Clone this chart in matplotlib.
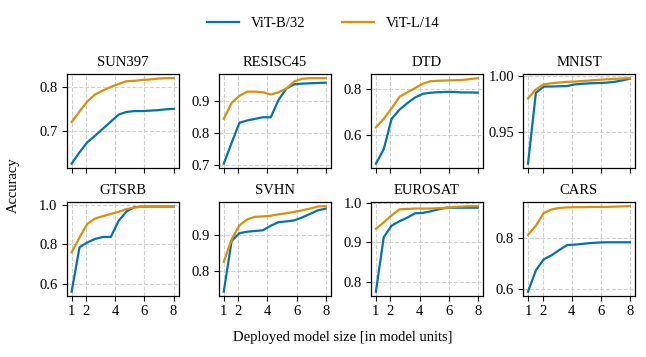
import numpy as np
import matplotlib
matplotlib.use('Agg')
import matplotlib.pyplot as plt

plt.rcParams['font.family'] = ['Liberation Serif', 'DejaVu Serif']
plt.rcParams['font.size'] = 10.5

# model sizes on the x axis (in model units)
sizes = [1, 1.54, 2.08, 2.62, 3.15, 3.69, 4.23, 4.77, 5.31, 5.85, 6.38, 6.92, 7.46, 8]

datasets = ['SUN397', 'RESISC45', 'DTD', 'MNIST', 'GTSRB', 'SVHN', 'EUROSAT', 'CARS']

# ViT-B/32 accuracy per dataset
vitb_sun397 = [0.626, 0.652, 0.675, 0.690, 0.706, 0.722, 0.738, 0.744, 0.746, 0.746, 0.747, 0.748, 0.750, 0.751]
vitb_resisc45 = [0.705, 0.770, 0.833, 0.840, 0.845, 0.850, 0.850, 0.905, 0.940, 0.953, 0.955, 0.956, 0.957, 0.958]
vitb_dtd = [0.477, 0.540, 0.672, 0.712, 0.740, 0.765, 0.781, 0.786, 0.788, 0.789, 0.789, 0.787, 0.787, 0.786]
vitb_mnist = [0.922, 0.985, 0.9905, 0.9906, 0.9908, 0.991, 0.9925, 0.9930, 0.9935, 0.9937, 0.9940, 0.9947, 0.9960, 0.9975]
vitb_gtsrb = [0.559, 0.785, 0.810, 0.828, 0.838, 0.838, 0.920, 0.968, 0.990, 0.992, 0.993, 0.993, 0.993, 0.993]
vitb_svhn = [0.741, 0.884, 0.906, 0.910, 0.912, 0.914, 0.927, 0.937, 0.939, 0.942, 0.950, 0.960, 0.970, 0.975]
vitb_eurosat = [0.776, 0.913, 0.942, 0.953, 0.962, 0.973, 0.974, 0.978, 0.983, 0.987, 0.987, 0.987, 0.987, 0.987]
vitb_cars = [0.591, 0.675, 0.718, 0.734, 0.755, 0.774, 0.776, 0.779, 0.782, 0.784, 0.785, 0.785, 0.785, 0.785]

# ViT-L/14 accuracy per dataset
vitl_sun397 = [0.721, 0.745, 0.768, 0.784, 0.793, 0.801, 0.808, 0.814, 0.815, 0.817, 0.818, 0.820, 0.821, 0.821]
vitl_resisc45 = [0.845, 0.895, 0.917, 0.930, 0.930, 0.928, 0.921, 0.928, 0.940, 0.962, 0.970, 0.972, 0.972, 0.972]
vitl_dtd = [0.635, 0.672, 0.718, 0.768, 0.787, 0.806, 0.825, 0.836, 0.838, 0.839, 0.840, 0.841, 0.845, 0.849]
vitl_mnist = [0.980, 0.988, 0.9925, 0.9935, 0.9942, 0.9948, 0.995, 0.9955, 0.996, 0.9965, 0.997, 0.9973, 0.9977, 0.998]
vitl_gtsrb = [0.760, 0.835, 0.905, 0.932, 0.944, 0.955, 0.966, 0.980, 0.988, 0.992, 0.993, 0.994, 0.995, 0.995]
vitl_svhn = [0.825, 0.888, 0.928, 0.945, 0.952, 0.953, 0.955, 0.959, 0.962, 0.966, 0.970, 0.975, 0.981, 0.982]
vitl_eurosat = [0.934, 0.950, 0.968, 0.983, 0.984, 0.985, 0.985, 0.985, 0.986, 0.987, 0.989, 0.990, 0.991, 0.991]
vitl_cars = [0.814, 0.850, 0.900, 0.914, 0.920, 0.922, 0.923, 0.923, 0.924, 0.924, 0.924, 0.925, 0.926, 0.927]

vitb = [vitb_sun397, vitb_resisc45, vitb_dtd, vitb_mnist, vitb_gtsrb, vitb_svhn, vitb_eurosat, vitb_cars]
vitl = [vitl_sun397, vitl_resisc45, vitl_dtd, vitl_mnist, vitl_gtsrb, vitl_svhn, vitl_eurosat, vitl_cars]

xticks = [1, 2, 4, 6, 8]
yticks = [[0.7, 0.8], [0.7, 0.8, 0.9], [0.6, 0.8], [0.95, 1.0],
          [0.6, 0.8, 1.0], [0.8, 0.9], [0.8, 0.9, 1.0], [0.6, 0.8]]
ytick_fmt = ['%.1f', '%.1f', '%.1f', '%.2f', '%.1f', '%.1f', '%.1f', '%.1f']

blue = '#0173B2'
orange = '#DE8F05'

fig, axes = plt.subplots(2, 4, figsize=(6.46, 3.57), dpi=100, sharex=True)
plt.subplots_adjust(left=0.103, right=0.983, top=0.793, bottom=0.171, wspace=0.357, hspace=0.36)

for i, ax in enumerate(axes.flat):
    ax.plot(sizes, vitb[i], color=blue, lw=1.6, label='ViT-B/32')
    ax.plot(sizes, vitl[i], color=orange, lw=1.6, label='ViT-L/14')
    ax.set_title(datasets[i], fontsize=10.5, pad=6)
    ax.set_xticks(xticks)
    ax.set_yticks(yticks[i])
    ax.yaxis.set_major_formatter(matplotlib.ticker.FormatStrFormatter(ytick_fmt[i]))
    ax.grid(True, ls='--', color='#d0d0d0', lw=0.8)
    ax.tick_params(labelsize=10.5, length=3.5, width=0.8, pad=3)
    for s in ax.spines.values():
        s.set_linewidth(0.9)

handles, labels = axes[0, 0].get_legend_handles_labels()
fig.legend(handles, labels, loc='upper center', bbox_to_anchor=(0.5, 0.99), ncol=2,
           frameon=False, fontsize=10.5, handlelength=2.2, columnspacing=2.5)
fig.text(0.53, 0.055, 'Deployed model size [in model units]', ha='center', va='center', fontsize=10.5)
fig.text(0.02, 0.48, 'Accuracy', rotation=90, ha='center', va='center', fontsize=10.5)

plt.savefig('out.png', dpi=100)
